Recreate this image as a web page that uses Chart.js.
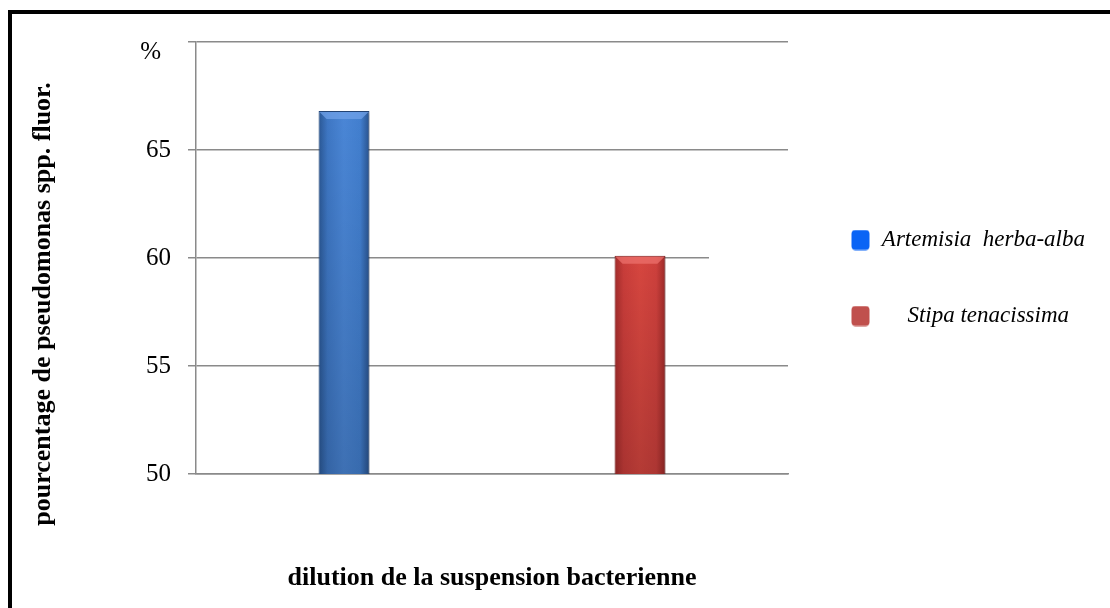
<!DOCTYPE html>
<html>
<head>
<meta charset="utf-8">
<script src="https://cdn.jsdelivr.net/npm/chart.js@4.4.1/dist/chart.umd.min.js"></script>
<style>
  html, body { margin: 0; padding: 0; background: #fff; width: 1110px; height: 608px; overflow: hidden; }
  #frame { position: absolute; left: 8px; top: 10px; width: 1200px; height: 700px; border: 4px solid #000; box-sizing: border-box; }
  #wrap { position: absolute; left: 0; top: 0; width: 1110px; height: 608px; }
</style>
</head>
<body>
<div id="frame"></div>
<div id="wrap"><canvas id="chart" width="1110" height="608"></canvas></div>
<script>
// ---- data ----
const categories   = ['Artemisia herba-alba', 'Stipa tenacissima'];
const legendLabels = ['Artemisia  herba-alba', 'Stipa tenacissima'];
const legendAlign  = ['right', 'center'];
const values       = [66.8, 60.1];
const yTicks       = [50, 55, 60, 65, 70];
const yTickLabels  = ['50', '55', '60', '65', '%\u2009\u2009'];
const yAxisTitle   = 'pourcentage de pseudomonas spp. fluor.';
const xAxisTitle   = 'dilution de la suspension bacterienne';

// ---- styling ----
const SERIF = "'Liberation Serif', 'Times New Roman', serif";
const legendColors = ['#0a64f5', '#c0504d'];
const barShades = [
  ['#2a5794', '#3e77c4', '#4a86d6', '#427fcf', '#28528e'],
  ['#a22c2b', '#c93d3a', '#d6463f', '#cd403c', '#9c2928']
];
const barEdges = ['#24487c', '#7e1f1f'];
const barTops  = ['rgba(112,162,232,0.75)', 'rgba(236,112,108,0.75)'];

const GEOM = { left: 196, top: 42, bottom: 474, right: 788, tick: 8, legendRight: 1085 };

function barFill(ctx) {
  const chart = ctx.chart;
  const shades = barShades[ctx.dataIndex % barShades.length];
  if (!chart.chartArea || ctx.type !== 'data') return shades[2];
  const xs = chart.scales.x;
  const cx = xs.getPixelForValue(ctx.dataIndex);
  const half = (xs.width / categories.length) * 0.172 / 2;
  const g = chart.ctx.createLinearGradient(cx - half, 0, cx + half, 0);
  g.addColorStop(0, shades[0]);
  g.addColorStop(0.18, shades[1]);
  g.addColorStop(0.5, shades[2]);
  g.addColorStop(0.82, shades[3]);
  g.addColorStop(1, shades[4]);
  return g;
}

// rounded colour swatch used as the legend marker
function legendSwatch(color) {
  const c = document.createElement('canvas');
  c.width = 19; c.height = 21;
  const g = c.getContext('2d');
  g.fillStyle = color;
  g.beginPath();
  g.roundRect(0.5, 0.5, 18, 20, 4);
  g.fill();
  return c;
}
const legendSwatches = legendColors.map(legendSwatch);

// bevelled look of the bars + white legend backdrop reaching into the plot
const bevelPlugin = {
  id: 'bevel',
  beforeDatasetsDraw(chart, args, opts) {
    const { ctx, chartArea, legend } = chart;
    if (legend && legend.legendHitBoxes && legend.legendHitBoxes.length) {
      const hb = legend.legendHitBoxes;
      const first = hb[0], last = hb[hb.length - 1];
      ctx.save();
      ctx.fillStyle = '#fff';
      ctx.fillRect(chartArea.right - opts.overlap, first.top - opts.pad,
                   opts.overlap + 4, last.top + last.height - first.top + 2 * opts.pad);
      ctx.restore();
    }
    ctx.save();
    ctx.shadowColor = 'rgba(0,0,0,0.28)';
    ctx.shadowBlur = 4;
    ctx.shadowOffsetX = 2;
    ctx.shadowOffsetY = 1;
  },
  afterDatasetsDraw(chart, args, opts) {
    const { ctx, chartArea } = chart;
    ctx.restore();
    chart.getDatasetMeta(0).data.forEach((bar, i) => {
      const p = bar.getProps(['x', 'y', 'base', 'width'], true);
      const base = Math.min(p.base, chartArea.bottom);
      const l = p.x - p.width / 2, r = p.x + p.width / 2, y = p.y, d = opts.depth;
      const shade = ctx.createLinearGradient(0, y, 0, base);
      shade.addColorStop(0, 'rgba(0,0,0,0)');
      shade.addColorStop(1, 'rgba(0,0,0,0.16)');
      ctx.fillStyle = shade;
      ctx.fillRect(l + 1, y + 1, p.width - 2, base - y - 1);
      ctx.beginPath();
      ctx.moveTo(l + 1, y + 1);
      ctx.lineTo(r - 1, y + 1);
      ctx.lineTo(r - d, y + d);
      ctx.lineTo(l + d, y + d);
      ctx.closePath();
      ctx.fillStyle = barTops[i % barTops.length];
      ctx.fill();
    });
  }
};

const TITLE_FONT = 26;
const TITLE_PAD = { top: 28, bottom: 8 };
const titleBoxWidth = TITLE_FONT * 1.2 + TITLE_PAD.top + TITLE_PAD.bottom;
const LEGEND_FONT = 23;
const LEGEND_STEP = 76;

new Chart(document.getElementById('chart'), {
  type: 'bar',
  data: {
    labels: categories,
    datasets: [{
      data: values,
      backgroundColor: barFill,
      borderColor: (c) => barEdges[c.dataIndex % barEdges.length],
      borderWidth: 1,
      borderSkipped: false,
      categoryPercentage: 0.172,
      barPercentage: 1
    }]
  },
  plugins: [bevelPlugin],
  options: {
    responsive: false,
    animation: false,
    events: [],
    layout: { padding: 0 },
    scales: {
      x: {
        type: 'category',
        grid: { display: false, drawTicks: false },
        border: { display: true, color: '#8a8a8a', width: 1.5 },
        ticks: { display: false },
        title: {
          display: true,
          text: xAxisTitle,
          color: '#000',
          font: { family: SERIF, size: TITLE_FONT, weight: 'bold' },
          padding: { top: 0, bottom: 14 }
        },
        afterFit(scale) {
          scale.height = 608 - GEOM.bottom;
          scale.paddingRight = 1110 - GEOM.right;
        }
      },
      y: {
        min: yTicks[0],
        max: yTicks[yTicks.length - 1],
        afterBuildTicks(scale) { scale.ticks = yTicks.map(v => ({ value: v })); },
        ticks: {
          color: '#000',
          font: (c) => ({ family: SERIF, size: 25, lineHeight: c.tick && c.tick.value === yTicks[yTicks.length - 1] ? 0.8 : 1.2 }),
          padding: 17,
          // the top label sits a little under its grid line
          callback: (v) => {
            const lbl = yTickLabels[yTicks.indexOf(v)];
            return v === yTicks[yTicks.length - 1] ? ['', lbl] : lbl;
          }
        },
        grid: { color: '#8a8a8a', lineWidth: 1.5, tickLength: GEOM.tick, drawTicks: true },
        border: { display: true, color: '#8a8a8a', width: 1.5 },
        afterFit(scale) {
          scale.width = GEOM.left - titleBoxWidth;
          scale.paddingTop = GEOM.top;
        }
      }
    },
    plugins: {
      tooltip: { enabled: false },
      bevel: { depth: 8, overlap: 79, pad: 20 },
      title: {
        display: true,
        position: 'left',
        text: yAxisTitle,
        color: '#000',
        font: { family: SERIF, size: TITLE_FONT, weight: 'bold' },
        padding: TITLE_PAD
      },
      legend: {
        display: true,
        position: 'right',
        fullSize: false,
        align: 'center',
        maxWidth: GEOM.legendRight - GEOM.right,
        title: { display: true, text: '', font: { size: 10, lineHeight: 1 }, padding: { top: 30, bottom: 0 } },
        labels: {
          color: '#000',
          font: { family: SERIF, size: LEGEND_FONT, style: 'italic' },
          padding: LEGEND_STEP - LEGEND_FONT,
          usePointStyle: true,
          pointStyleWidth: 39,
          boxHeight: 20,
          generateLabels: () => legendLabels.map((t, i) => ({
            text: t,
            fillStyle: legendColors[i],
            strokeStyle: legendColors[i],
            pointStyle: legendSwatches[i],
            lineWidth: 0,
            fontColor: '#000',
            textAlign: legendAlign[i],
            hidden: false,
            index: i
          }))
        }
      }
    }
  }
});
</script>
</body>
</html>
